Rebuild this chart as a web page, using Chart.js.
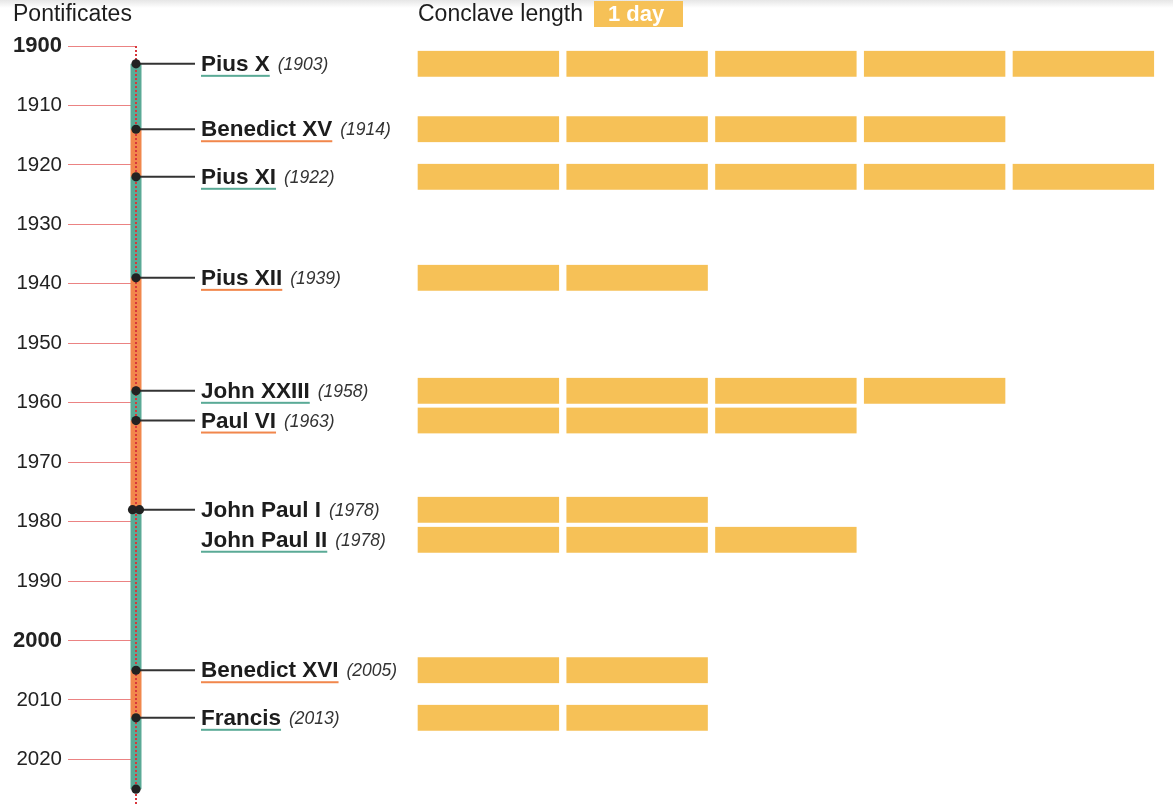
<!DOCTYPE html>
<html>
<head>
<meta charset="utf-8">
<title>Pontificates and conclave length</title>
<script src="https://cdn.jsdelivr.net/npm/chart.js@4.4.1/dist/chart.umd.min.js"></script>
<style>
  html, body { margin: 0; padding: 0; }
  body { background: linear-gradient(to bottom, #e6e6e6 0px, #ffffff 8px) no-repeat, #ffffff; }
  #wrap { position: relative; width: 1173px; height: 804px; }
</style>
</head>
<body>
<div id="wrap"><canvas id="chart"></canvas></div>
<script>
// ---------------- DATA ----------------
const popes = ['Pius X', 'Benedict XV', 'Pius XI', 'Pius XII', 'John XXIII', 'Paul VI',
               'John Paul I', 'John Paul II', 'Benedict XVI', 'Francis'];
const electedYears = [1903, 1914, 1922, 1939, 1958, 1963, 1978, 1978, 2005, 2013];
const conclaveDays = [5, 4, 5, 2, 4, 3, 2, 3, 2, 2];
const pontificateEndYear = 2025;
const yearTicks = [1900, 1910, 1920, 1930, 1940, 1950, 1960, 1970, 1980, 1990, 2000, 2010, 2020];
const boldYearTicks = [1900, 2000];
const headerLeft = 'Pontificates';
const headerRight = 'Conclave length';
const legendLabel = '1 day';

// ---------------- STYLE / LAYOUT ----------------
const FONT = '"Liberation Sans", Arial, Helvetica, sans-serif';
const TEAL = '#5aaa96';
const ORANGE = '#f1874c';
const GOLD = '#f6c157';
const RED = '#d8363c';
const INK = '#1d1d1d';
const popeColors = [TEAL, ORANGE, TEAL, ORANGE, TEAL, ORANGE, null, TEAL, ORANGE, TEAL];
const ROW_SHIFT_YEARS = 5.05;      // stacked label row when two popes share a year
const AXIS_WIDTH = 136;            // timeline sits at the left edge of the plot area
const LABEL_X = 201;
const DAY_MIN = -1.869, DAY_MAX = 5.1025;

const rowYears = electedYears.map((yr, i) =>
  (i > 0 && electedYears[i - 1] === yr) ? yr + ROW_SHIFT_YEARS : yr);

const dayBlocks = [];
popes.forEach((p, i) => {
  for (let d = 0; d < conclaveDays[i]; d++) {
    dayBlocks.push({ x: [d, d + 1], y: rowYears[i], pope: p });
  }
});

// ---------------- TIMELINE PLUGIN ----------------
const timelinePlugin = {
  id: 'timeline',
  afterDraw(chart) {
    const { ctx, chartArea } = chart;
    const ys = chart.scales.y;
    const x0 = chartArea.left;
    ctx.save();

    // headers
    ctx.textBaseline = 'alphabetic';
    ctx.textAlign = 'left';
    ctx.fillStyle = INK;
    ctx.font = `23px ${FONT}`;
    ctx.fillText(headerLeft, 13, 21);
    ctx.fillText(headerRight, 418, 21);
    ctx.fillStyle = GOLD;
    ctx.fillRect(594, 1, 89, 26);
    ctx.fillStyle = '#ffffff';
    ctx.font = `bold 22px ${FONT}`;
    ctx.fillText(legendLabel, 608, 21);

    // pontificate segments
    const n = popes.length;
    for (let i = 0; i < n; i++) {
      const c = popeColors[i];
      const y1 = ys.getPixelForValue(electedYears[i]);
      const y2 = ys.getPixelForValue(i < n - 1 ? electedYears[i + 1] : pontificateEndYear);
      if (!c || y2 <= y1) continue;
      ctx.globalAlpha = 0.5;
      ctx.fillStyle = c;
      ctx.fillRect(x0 - 6, y1, 12, y2 - y1);
      ctx.globalAlpha = 1;
      ctx.fillRect(x0 - 5, y1, 10, y2 - y1);
    }

    // red dotted spine
    ctx.strokeStyle = RED;
    ctx.lineWidth = 2;
    ctx.setLineDash([2, 2]);
    ctx.beginPath();
    ctx.moveTo(x0, ys.getPixelForValue(yearTicks[0]));
    ctx.lineTo(x0, chartArea.bottom);
    ctx.stroke();
    ctx.setLineDash([]);

    // connectors + dots
    ctx.strokeStyle = '#333';
    ctx.lineWidth = 2;
    for (let i = 0; i < n; i++) {
      const yy = ys.getPixelForValue(electedYears[i]);
      const dupPrev = i > 0 && electedYears[i - 1] === electedYears[i];
      const dupNext = i < n - 1 && electedYears[i + 1] === electedYears[i];
      let dx = 0;
      if (dupNext) dx = -3.5;
      if (dupPrev) dx = 3.5;
      if (!dupPrev) {
        ctx.beginPath();
        ctx.moveTo(x0, yy);
        ctx.lineTo(LABEL_X - 6, yy);
        ctx.stroke();
      }
      ctx.fillStyle = '#222';
      ctx.beginPath();
      ctx.arc(x0 + dx, yy, 4.6, 0, Math.PI * 2);
      ctx.fill();
    }
    ctx.beginPath();
    ctx.arc(x0, ys.getPixelForValue(pontificateEndYear), 4.6, 0, Math.PI * 2);
    ctx.fill();

    // labels
    for (let i = 0; i < n; i++) {
      const base = ys.getPixelForValue(rowYears[i]) + 7;
      ctx.font = `bold 22.5px ${FONT}`;
      ctx.fillStyle = INK;
      ctx.fillText(popes[i], LABEL_X, base);
      const w = ctx.measureText(popes[i]).width;
      if (popeColors[i]) {
        ctx.fillStyle = popeColors[i];
        ctx.fillRect(LABEL_X, base + 4, w, 2);
      }
      ctx.font = `italic 17.5px ${FONT}`;
      ctx.fillStyle = '#333';
      ctx.fillText('(' + electedYears[i] + ')', LABEL_X + w + 8, base - 1);
    }
    ctx.restore();
  }
};

// ---------------- CHART ----------------
new Chart(document.getElementById('chart'), {
  type: 'bar',
  data: {
    datasets: [{
      label: 'Conclave length (days)',
      data: dayBlocks,
      indexAxis: 'y',
      backgroundColor: GOLD,
      borderColor: '#ffffff',
      borderWidth: { left: 4, right: 4, top: 0, bottom: 0 },
      borderSkipped: false,
      barThickness: 26,
      xAxisID: 'x',
      yAxisID: 'y'
    }]
  },
  options: {
    indexAxis: 'y',
    responsive: true,
    maintainAspectRatio: false,
    animation: false,
    layout: { padding: { top: 46, left: 0, right: 0, bottom: 0 } },
    plugins: { legend: { display: false }, tooltip: { enabled: false } },
    scales: {
      x: { type: 'linear', display: false, min: DAY_MIN, max: DAY_MAX },
      y: {
        type: 'linear',
        reverse: true,
        min: 1900,
        max: 2027.5,
        offset: false,
        afterBuildTicks: (axis) => { axis.ticks = yearTicks.map(v => ({ value: v })); },
        afterFit: (axis) => { axis.width = AXIS_WIDTH; axis.paddingTop = 0; axis.paddingBottom = 0; },
        ticks: {
          autoSkip: false,
          padding: 6,
          color: '#222',
          font: (c) => {
            const bold = c.tick && boldYearTicks.includes(c.tick.value);
            return { family: FONT, size: bold ? 22 : 20.5, weight: bold ? 'bold' : 'normal' };
          },
          callback: (v) => String(v)
        },
        grid: { offset: false, drawOnChartArea: false, drawTicks: true, tickLength: 68,
                color: 'rgba(225,65,65,0.65)', lineWidth: 1 },
        border: { display: false }
      }
    }
  },
  plugins: [timelinePlugin]
});
</script>
</body>
</html>
